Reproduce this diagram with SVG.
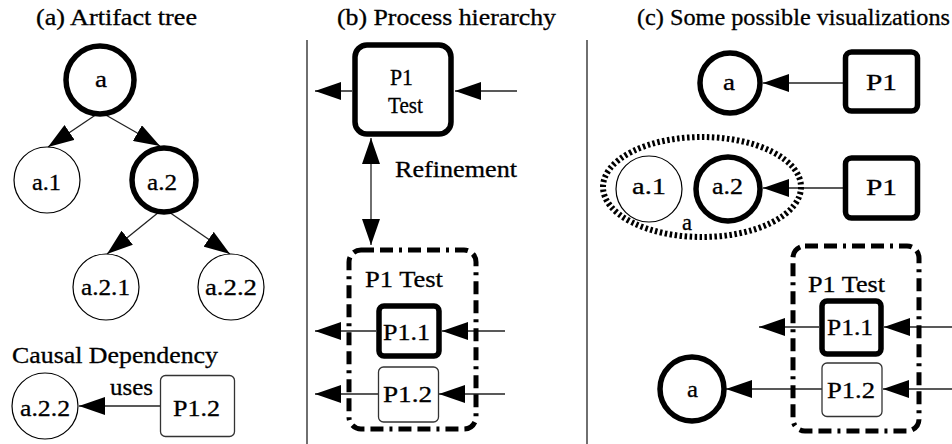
<svg xmlns="http://www.w3.org/2000/svg" width="952" height="444" viewBox="0 0 952 444">
  <style>
    text { font-family: "Liberation Serif", "Times New Roman", serif; font-size: 23px; fill: #000; stroke: #000; stroke-width: 0.3; }
    .thin { fill: #fff; stroke: #000; stroke-width: 1.2; }
    .thick { fill: #fff; stroke: #000; stroke-width: 5.5; }
    .box { fill: #fff; stroke: #333; stroke-width: 1.3; }
    .group { fill: none; stroke: #000; stroke-width: 5; stroke-dasharray: 13 6 13 6 3 6; }
    .dotted { fill: none; stroke: #000; stroke-width: 6; stroke-dasharray: 2.5 2.5; }
    .edge { fill: none; stroke: #222; stroke-width: 1.3; marker-end: url(#head); }
    .sep { stroke: #333; stroke-width: 1.4; }
  </style>
  <defs>
    <marker id="head" markerUnits="userSpaceOnUse" markerWidth="26" markerHeight="18" refX="26" refY="9" orient="auto">
      <path d="M0,0 L26,9 L0,18 z" fill="#000"/>
    </marker>
    <marker id="tail" markerUnits="userSpaceOnUse" markerWidth="26" markerHeight="18" refX="0" refY="9" orient="auto">
      <path d="M26,0 L0,9 L26,18 z" fill="#000"/>
    </marker>
  </defs>

  <!-- panel titles -->
  <text x="36" y="25" textLength="161" lengthAdjust="spacingAndGlyphs">(a) Artifact tree</text>
  <text x="337" y="25" textLength="219" lengthAdjust="spacingAndGlyphs">(b) Process hierarchy</text>
  <text x="637" y="25" textLength="313" lengthAdjust="spacingAndGlyphs">(c) Some possible visualizations</text>

  <!-- panel separators -->
  <line class="sep" x1="307" y1="40" x2="307" y2="444"/>
  <line class="sep" x1="587" y1="40" x2="587" y2="444"/>

  <!-- connectors -->
  <g id="connectors">
    <path class="edge" d="M97,114 L48,147"/>
    <path class="edge" d="M104,114 L160,146"/>
    <path class="edge" d="M159,212 L107,254"/>
    <path class="edge" d="M169,212 L230,254"/>
    <path class="edge" d="M160,406 L79,406"/>
    <path class="edge" d="M352,91 L315,91"/>
    <path class="edge" d="M517,91 L455,91"/>
    <path class="edge" d="M371,138 L371,245" marker-start="url(#tail)"/>
    <path class="edge" d="M376,331 L315,331"/>
    <path class="edge" d="M505,331 L442,331"/>
    <path class="edge" d="M378,394 L315,394"/>
    <path class="edge" d="M505,394 L439,394"/>
    <path class="edge" d="M843,83 L763,83"/>
    <path class="edge" d="M843,188 L763,188"/>
    <path class="edge" d="M819,327 L759,327"/>
    <path class="edge" d="M952,327 L884,327"/>
    <path class="edge" d="M822,389 L726,389"/>
    <path class="edge" d="M952,389 L883,389"/>
  </g>

  <!-- (a) artifact tree -->
  <g id="a-root">
    <circle class="thick" cx="100" cy="80" r="34"/>
    <text x="95" y="87" textLength="12" lengthAdjust="spacingAndGlyphs">a</text>
  </g>
  <g id="a1">
    <circle class="thin" cx="47" cy="180" r="33"/>
    <text x="32" y="190" textLength="29" lengthAdjust="spacingAndGlyphs">a.1</text>
  </g>
  <g id="a2">
    <circle class="thick" cx="164" cy="180" r="32"/>
    <text x="147" y="190" textLength="30" lengthAdjust="spacingAndGlyphs">a.2</text>
  </g>
  <g id="a21">
    <circle class="thin" cx="106" cy="287" r="33"/>
    <text x="81" y="295" textLength="49" lengthAdjust="spacingAndGlyphs">a.2.1</text>
  </g>
  <g id="a22">
    <circle class="thin" cx="231" cy="287" r="33"/>
    <text x="205" y="295" textLength="52" lengthAdjust="spacingAndGlyphs">a.2.2</text>
  </g>

  <!-- (a) causal dependency example -->
  <text x="12" y="363" textLength="206" lengthAdjust="spacingAndGlyphs">Causal Dependency</text>
  <text x="110" y="395" textLength="43" lengthAdjust="spacingAndGlyphs">uses</text>
  <g id="dep-a22">
    <circle class="thin" cx="45" cy="406" r="33"/>
    <text x="20" y="416" textLength="50" lengthAdjust="spacingAndGlyphs">a.2.2</text>
  </g>
  <g id="dep-p12">
    <rect class="box" x="160.5" y="375.5" width="74" height="61" rx="5"/>
    <text x="173" y="416" textLength="47" lengthAdjust="spacingAndGlyphs">P1.2</text>
  </g>

  <!-- (b) process hierarchy -->
  <g id="b-p1">
    <rect class="thick" x="355" y="45" width="96" height="89" rx="12"/>
    <text x="390" y="85" textLength="23" lengthAdjust="spacingAndGlyphs">P1</text>
    <text x="388" y="113" textLength="35" lengthAdjust="spacingAndGlyphs">Test</text>
  </g>
  <text x="395" y="177" textLength="122" lengthAdjust="spacingAndGlyphs">Refinement</text>
  <g id="b-p1-group">
    <rect class="group" x="349" y="250" width="127" height="179" rx="12"/>
    <text x="365" y="287" textLength="78" lengthAdjust="spacingAndGlyphs">P1 Test</text>
  </g>
  <g id="b-p11">
    <rect class="thick" x="379" y="306" width="60" height="50" rx="5"/>
    <text x="383" y="340" textLength="47" lengthAdjust="spacingAndGlyphs">P1.1</text>
  </g>
  <g id="b-p12">
    <rect class="box" x="378.5" y="367" width="60" height="55" rx="5"/>
    <text x="383" y="402" textLength="49" lengthAdjust="spacingAndGlyphs">P1.2</text>
  </g>

  <!-- (c) possible visualizations -->
  <g id="c-a">
    <circle class="thick" cx="730" cy="83" r="30"/>
    <text x="723" y="90" textLength="12" lengthAdjust="spacingAndGlyphs">a</text>
  </g>
  <g id="c-p1">
    <rect class="thick" x="845.5" y="52" width="72" height="59" rx="6"/>
    <text x="866" y="90" textLength="31" lengthAdjust="spacingAndGlyphs">P1</text>
  </g>
  <g id="c-a-cluster">
    <ellipse class="dotted" cx="702" cy="187" rx="99" ry="50"/>
    <text x="682" y="230" textLength="10" lengthAdjust="spacingAndGlyphs">a</text>
  </g>
  <g id="c-a1">
    <circle class="thin" cx="649" cy="189" r="33"/>
    <text x="632" y="194" textLength="34" lengthAdjust="spacingAndGlyphs">a.1</text>
  </g>
  <g id="c-a2">
    <circle class="thick" cx="728" cy="189" r="32"/>
    <text x="712" y="194" textLength="31" lengthAdjust="spacingAndGlyphs">a.2</text>
  </g>
  <g id="c-p1b">
    <rect class="thick" x="845.5" y="158" width="72" height="60" rx="6"/>
    <text x="866" y="195" textLength="31" lengthAdjust="spacingAndGlyphs">P1</text>
  </g>
  <g id="c-p1-group">
    <rect class="group" x="793" y="246" width="126" height="185" rx="12"/>
    <text x="808" y="292" textLength="77" lengthAdjust="spacingAndGlyphs">P1 Test</text>
  </g>
  <g id="c-p11">
    <rect class="thick" x="822" y="301" width="59" height="53" rx="5"/>
    <text x="827" y="335" textLength="46" lengthAdjust="spacingAndGlyphs">P1.1</text>
  </g>
  <g id="c-p12">
    <rect class="box" x="822" y="363" width="60" height="53.5" rx="5"/>
    <text x="827" y="398" textLength="48" lengthAdjust="spacingAndGlyphs">P1.2</text>
  </g>
  <g id="c-a-low">
    <circle class="thick" cx="692" cy="389" r="32"/>
    <text x="687" y="397" textLength="11" lengthAdjust="spacingAndGlyphs">a</text>
  </g>
</svg>
